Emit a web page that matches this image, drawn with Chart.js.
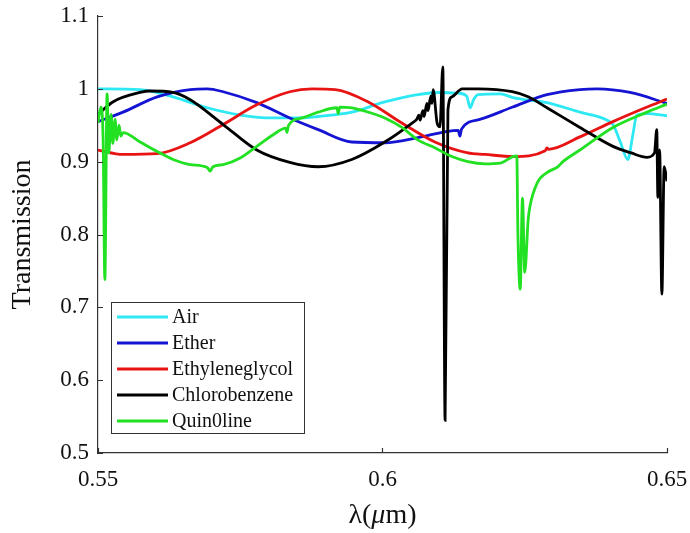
<!DOCTYPE html>
<html lang="en">
<head>
  <meta charset="UTF-8" />
  <title>Transmission vs wavelength</title>
  <script src="https://cdn.jsdelivr.net/npm/chart.js"></script>
  <style>
    body { margin: 0; background: #fff; }
    #chart { display: block; }
  </style>
</head>
<body>
  <canvas id="chart" width="690" height="533"></canvas>

  <script>
    // tick labels
    const xTicks = [0.55, 0.6, 0.65];
    const yTicks = [0.5, 0.6, 0.7, 0.8, 0.9, 1, 1.1];

    // series (wavelength in um, transmission)
    const airX = [0.55, 0.5574, 0.5632, 0.5692, 0.5750, 0.5808, 0.5859, 0.5887, 0.5946, 0.6004, 0.6062, 0.6100, 0.6133, 0.6148, 0.6154, 0.6160, 0.6168, 0.6207, 0.6229, 0.6289, 0.6347, 0.6395, 0.6405, 0.6418, 0.6431, 0.6440, 0.6447, 0.6465, 0.65];
    const airY = [1.0, 0.999, 0.989, 0.974, 0.964, 0.960, 0.960, 0.962, 0.968, 0.982, 0.992, 0.995, 0.994, 0.990, 0.974, 0.985, 0.992, 0.993, 0.988, 0.981, 0.968, 0.957, 0.951, 0.927, 0.903, 0.937, 0.964, 0.966, 0.963];

    const etherX = [0.55, 0.5544, 0.5604, 0.5662, 0.5692, 0.5720, 0.5779, 0.5837, 0.5887, 0.5946, 0.6004, 0.6062, 0.6110, 0.6133, 0.6136, 0.6139, 0.6171, 0.6229, 0.6289, 0.6347, 0.6377, 0.6435, 0.65];
    const etherY = [0.955, 0.968, 0.989, 0.999, 1.0, 0.996, 0.981, 0.960, 0.944, 0.927, 0.926, 0.933, 0.941, 0.943, 0.935, 0.945, 0.958, 0.975, 0.992, 0.999, 1.0, 0.995, 0.980];

    const glycolX = [0.55, 0.5544, 0.5604, 0.5662, 0.5720, 0.5779, 0.5837, 0.5876, 0.5917, 0.5975, 0.6034, 0.6092, 0.6150, 0.6180, 0.6229, 0.6286, 0.6289, 0.6292, 0.6347, 0.6405, 0.6465, 0.65];
    const glycolY = [0.916, 0.910, 0.911, 0.926, 0.951, 0.978, 0.996, 1.0, 0.999, 0.982, 0.953, 0.927, 0.912, 0.910, 0.907, 0.915, 0.919, 0.917, 0.934, 0.955, 0.975, 0.986];

    const chloroX = [0.55, 0.5526, 0.5574, 0.5591, 0.5632, 0.5662, 0.5720, 0.5779, 0.5837, 0.5887, 0.5946, 0.6004, 0.6052, 0.6060, 0.6064, 0.6066, 0.6071, 0.6073, 0.6078, 0.6080, 0.6085, 0.6087, 0.6089, 0.6096, 0.6101, 0.6106, 0.6110, 0.6115, 0.6122, 0.6140, 0.6168, 0.6228, 0.6256, 0.6289, 0.6347, 0.6405, 0.6437, 0.6465, 0.6478, 0.6482, 0.6484, 0.6487, 0.6491, 0.6495, 0.65];
    const chloroY = [0.965, 0.982, 0.995, 0.997, 0.995, 0.985, 0.951, 0.916, 0.899, 0.893, 0.903, 0.927, 0.953, 0.958, 0.964, 0.957, 0.970, 0.962, 0.980, 0.970, 0.990, 0.980, 0.999, 0.953, 0.948, 1.030, 0.545, 0.971, 0.989, 1.0, 1.0, 0.996, 0.989, 0.974, 0.947, 0.921, 0.912, 0.906, 0.912, 0.944, 0.851, 0.916, 0.718, 0.893, 0.873];

    const quinX = [0.55, 0.5505, 0.5509, 0.5512, 0.5516, 0.5519, 0.5523, 0.5526, 0.5530, 0.5533, 0.5537, 0.5540, 0.5544, 0.5574, 0.5604, 0.5632, 0.5662, 0.5692, 0.5697, 0.5702, 0.5720, 0.5750, 0.5779, 0.5808, 0.5830, 0.5832, 0.5835, 0.5859, 0.5887, 0.5920, 0.5922, 0.5925, 0.5946, 0.5975, 0.6004, 0.6034, 0.6062, 0.6092, 0.6122, 0.6150, 0.6180, 0.6207, 0.6229, 0.6236, 0.6238, 0.6242, 0.6246, 0.6250, 0.6256, 0.6259, 0.6272, 0.6289, 0.6308, 0.6317, 0.6347, 0.6405, 0.6465, 0.65];
    const quinY = [0.953, 0.975, 0.930, 0.738, 0.993, 0.912, 0.965, 0.925, 0.958, 0.930, 0.950, 0.935, 0.940, 0.927, 0.914, 0.903, 0.896, 0.892, 0.887, 0.893, 0.896, 0.905, 0.921, 0.937, 0.946, 0.940, 0.950, 0.960, 0.968, 0.974, 0.966, 0.975, 0.974, 0.968, 0.960, 0.947, 0.930, 0.919, 0.907, 0.900, 0.897, 0.898, 0.907, 0.908, 0.800, 0.725, 0.850, 0.748, 0.820, 0.838, 0.871, 0.885, 0.893, 0.900, 0.916, 0.947, 0.968, 0.979];

    const names = ['Air', 'Ether', 'Ethyleneglycol', 'Chlorobenzene', 'Quin0line'];
    const colors = ['#2ee8f4', '#1414d2', '#e81414', '#000000', '#22e022'];

    const FONT = '"Liberation Serif", "Times New Roman", serif';

    function pts(xs, ys) {
      return xs.map((x, i) => ({ x: x, y: ys[i] }));
    }

    const series = [
      pts(airX, airY),
      pts(etherX, etherY),
      pts(glycolX, glycolY),
      pts(chloroX, chloroY),
      pts(quinX, quinY)
    ];

    // inward tick marks, matlab style
    const inwardTicks = {
      id: 'inwardTicks',
      afterDraw(chart) {
        const c = chart.ctx;
        const xs = chart.scales.x, ys = chart.scales.y;
        const a = chart.chartArea;
        c.save();
        c.strokeStyle = '#333';
        c.lineWidth = 1.2;
        c.beginPath();
        yTicks.forEach(v => {
          const py = Math.round(ys.getPixelForValue(v)) + 0.5;
          c.moveTo(a.left, py);
          c.lineTo(a.left + 5, py);
        });
        xTicks.forEach(v => {
          const px = Math.round(xs.getPixelForValue(v)) + 0.5;
          c.moveTo(px, a.bottom);
          c.lineTo(px, a.bottom - 5);
        });
        c.stroke();
        c.restore();
      }
    };

    // x title with italic mu
    const xTitle = {
      id: 'xTitle',
      afterDraw(chart) {
        const c = chart.ctx;
        const a = chart.chartArea;
        const parts = [['λ(', 'normal'], ['μ', 'italic'], ['m)', 'normal']];
        c.save();
        c.fillStyle = '#111';
        c.textBaseline = 'alphabetic';
        let total = 0;
        parts.forEach(p => {
          c.font = p[1] + ' 28px ' + FONT;
          total += c.measureText(p[0]).width;
        });
        let x = (a.left + a.right) / 2 - total / 2;
        parts.forEach(p => {
          c.font = p[1] + ' 28px ' + FONT;
          c.fillText(p[0], x, 523);
          x += c.measureText(p[0]).width;
        });
        c.restore();
      }
    };

    // boxed legend in lower-left of plot area
    const boxLegend = {
      id: 'boxLegend',
      afterDraw(chart) {
        const c = chart.ctx;
        const left = 111, top = 302, w = 193, h = 131;
        c.save();
        c.fillStyle = '#fff';
        c.fillRect(left, top, w, h);
        c.strokeStyle = '#333';
        c.lineWidth = 1;
        c.strokeRect(left + 0.5, top + 0.5, w, h);
        c.font = '20px ' + FONT;
        c.textBaseline = 'middle';
        chart.data.datasets.forEach((ds, i) => {
          const y = top + 15 + i * 26;
          c.strokeStyle = ds.borderColor;
          c.lineWidth = 3;
          c.beginPath();
          c.moveTo(left + 6, y);
          c.lineTo(left + 57, y);
          c.stroke();
          c.fillStyle = '#111';
          c.fillText(ds.label, left + 61, y + 1);
        });
        c.restore();
      }
    };

    new Chart(document.getElementById('chart'), {
      type: 'scatter',
      data: {
        datasets: series.map((d, i) => ({
          label: names[i],
          data: d,
          showLine: true,
          borderColor: colors[i],
          backgroundColor: colors[i],
          borderWidth: 2.8,
          pointRadius: 0,
          cubicInterpolationMode: 'monotone',
          order: names.length - i
        }))
      },
      options: {
        responsive: false,
        animation: false,
        layout: { padding: { top: 16, right: 23, left: 0, bottom: 0 } },
        plugins: {
          legend: { display: false },
          tooltip: { enabled: false }
        },
        scales: {
          x: {
            type: 'linear',
            min: 0.55,
            max: 0.65,
            afterBuildTicks: s => { s.ticks = xTicks.map(v => ({ value: v })); },
            afterFit: s => { s.height = 80; s.paddingLeft = 0; s.paddingRight = 0; },
            ticks: {
              font: { family: FONT, size: 23 },
              color: '#111',
              padding: 13,
              maxRotation: 0,
              callback: v => String(+v.toFixed(2))
            },
            grid: { display: true, drawOnChartArea: false, drawTicks: false },
            border: { display: true, color: '#333', width: 1.2 }
          },
          y: {
            min: 0.5,
            max: 1.1,
            afterBuildTicks: s => { s.ticks = yTicks.map(v => ({ value: v })); },
            afterFit: s => { s.width = 98; s.paddingTop = 0; s.paddingBottom = 0; },
            ticks: {
              font: { family: FONT, size: 23 },
              color: '#111',
              padding: 9,
              callback: v => String(+v.toFixed(1))
            },
            title: {
              display: true,
              text: 'Transmission',
              font: { family: FONT, size: 28 },
              color: '#111',
              padding: { top: 6, bottom: 0 }
            },
            grid: { display: true, drawOnChartArea: false, drawTicks: false },
            border: { display: true, color: '#333', width: 1.2 }
          }
        }
      },
      plugins: [inwardTicks, xTitle, boxLegend]
    });
  </script>
</body>
</html>
